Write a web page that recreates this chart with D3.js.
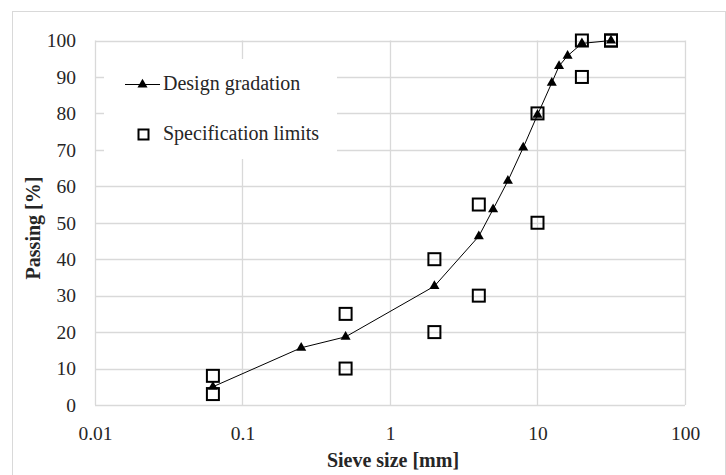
<!DOCTYPE html>
<html lang="en">
<head>
  <title>sieve gradation</title>
  <script type="text/javascript" src="https://cdn.jsdelivr.net/npm/d3@7"></script>
  <style>
    body {
      margin: 0px;
      background: white;
    }
    svg {
      display: block;
    }
  </style>
</head>
<body>
  <script type="text/javascript">
    // Data
    var designSizes = [0.063, 0.25, 0.5, 2, 4, 5, 6.3, 8, 10, 12.5, 14, 16, 20, 31.5];
    var designPassing = [5, 15.7, 18.7, 32.6, 46.3, 53.7, 61.5, 70.6, 79.6, 88.4, 93, 95.8, 99.2, 100];
    var limitSizes = [0.063, 0.063, 0.5, 0.5, 2, 2, 4, 4, 10, 10, 20, 20, 31.5, 31.5];
    var limitPassing = [8, 3, 25, 10, 40, 20, 55, 30, 80, 50, 100, 90, 100, 100];
    var xTicks = [0.01, 0.1, 1, 10, 100];
    var xTickLabels = ["0.01", "0.1", "1", "10", "100"];
    var yTicks = [0, 10, 20, 30, 40, 50, 60, 70, 80, 90, 100];
    var legendLabels = ["Design gradation", "Specification limits"];

    // Layout
    var width = 726;
    var height = 475;
    var plotLeft = 95, plotRight = 685, plotTop = 40.5, plotBottom = 405;
    var font = "'Palatino Linotype', 'Book Antiqua', Palatino, 'Liberation Serif', serif";
    var gridColor = "#d9d9d9";
    var textColor = "#262626";

    var svg = d3.select("body").append("svg")
      .attr("width", width)
      .attr("height", height)
      .style("font-family", font);

    // outer chart border
    svg.append("rect")
      .attr("x", 12.5).attr("y", 11.5)
      .attr("width", 713).attr("height", 480)
      .attr("fill", "white")
      .attr("stroke", gridColor);

    var x = d3.scaleLog().domain([0.01, 100]).range([plotLeft, plotRight]);
    var y = d3.scaleLinear().domain([0, 100]).range([plotBottom, plotTop]);

    // gridlines
    svg.append("g").selectAll("line")
      .data(yTicks)
      .enter().append("line")
      .attr("x1", plotLeft).attr("x2", plotRight)
      .attr("y1", function(d) { return Math.round(y(d)) + 0.5; })
      .attr("y2", function(d) { return Math.round(y(d)) + 0.5; })
      .attr("stroke", gridColor).attr("stroke-width", 1.3);

    svg.append("g").selectAll("line")
      .data(xTicks)
      .enter().append("line")
      .attr("x1", function(d) { return Math.round(x(d)) + 0.5; })
      .attr("x2", function(d) { return Math.round(x(d)) + 0.5; })
      .attr("y1", plotTop).attr("y2", plotBottom)
      .attr("stroke", gridColor).attr("stroke-width", 1.3);

    // axes (labels only, lines are the grid)
    var xAxis = d3.axisBottom(x)
      .tickValues(xTicks)
      .tickFormat(function(d, i) { return xTickLabels[i]; })
      .tickSize(0)
      .tickPadding(21);
    var gx = svg.append("g")
      .attr("transform", "translate(0," + plotBottom + ")")
      .call(xAxis);

    var yAxis = d3.axisLeft(y)
      .tickValues(yTicks)
      .tickSize(0)
      .tickPadding(19);
    var gy = svg.append("g")
      .attr("transform", "translate(" + plotLeft + ",0)")
      .call(yAxis);

    [gx, gy].forEach(function(g) {
      g.select(".domain").remove();
      g.selectAll("text")
        .style("font-family", font)
        .style("font-size", "19.5px")
        .attr("fill", textColor);
    });

    // axis titles
    svg.append("text")
      .attr("x", 393).attr("y", 467)
      .attr("text-anchor", "middle")
      .style("font-size", "20px")
      .style("font-weight", "bold")
      .attr("fill", textColor)
      .text("Sieve size [mm]");

    svg.append("text")
      .attr("transform", "translate(40,228) rotate(-90)")
      .attr("text-anchor", "middle")
      .style("font-size", "20px")
      .style("font-weight", "bold")
      .attr("fill", textColor)
      .text("Passing [%]");

    // legend background
    svg.append("rect")
      .attr("x", 104).attr("y", 59)
      .attr("width", 233).attr("height", 100)
      .attr("fill", "white");

    // design gradation line
    var design = designSizes.map(function(d, i) { return {x: d, y: designPassing[i]}; });
    var line = d3.line()
      .x(function(d) { return x(d.x); })
      .y(function(d) { return y(d.y); });

    svg.append("path")
      .datum(design)
      .attr("d", line)
      .attr("fill", "none")
      .attr("stroke", "black")
      .attr("stroke-width", 1);

    var triangle = d3.symbol().type(d3.symbolTriangle).size(44);

    // specification squares
    var limits = limitSizes.map(function(d, i) { return {x: d, y: limitPassing[i]}; });
    svg.append("g").selectAll("rect")
      .data(limits)
      .enter().append("rect")
      .attr("x", function(d) { return x(d.x) - 6; })
      .attr("y", function(d) { return y(d.y) - 6; })
      .attr("width", 12).attr("height", 12)
      .attr("fill", "none")
      .attr("stroke", "black")
      .attr("stroke-width", 2);

    svg.append("g").selectAll("path")
      .data(design)
      .enter().append("path")
      .attr("d", triangle)
      .attr("transform", function(d) { return "translate(" + x(d.x) + "," + y(d.y) + ")"; })
      .attr("fill", "black");

    // legend
    svg.append("line")
      .attr("x1", 125).attr("x2", 160)
      .attr("y1", 84.5).attr("y2", 84.5)
      .attr("stroke", "black");
    svg.append("path")
      .attr("d", triangle)
      .attr("transform", "translate(142.5,84.5)")
      .attr("fill", "black");
    svg.append("rect")
      .attr("x", 138.5).attr("y", 129.5)
      .attr("width", 10).attr("height", 10)
      .attr("fill", "none")
      .attr("stroke", "black")
      .attr("stroke-width", 2);

    svg.append("g").selectAll("text")
      .data(legendLabels)
      .enter().append("text")
      .attr("x", 163)
      .attr("y", function(d, i) { return 90 + i * 50; })
      .style("font-size", "20px")
      .attr("fill", textColor)
      .text(function(d) { return d; });
  </script>
</body>
</html>
